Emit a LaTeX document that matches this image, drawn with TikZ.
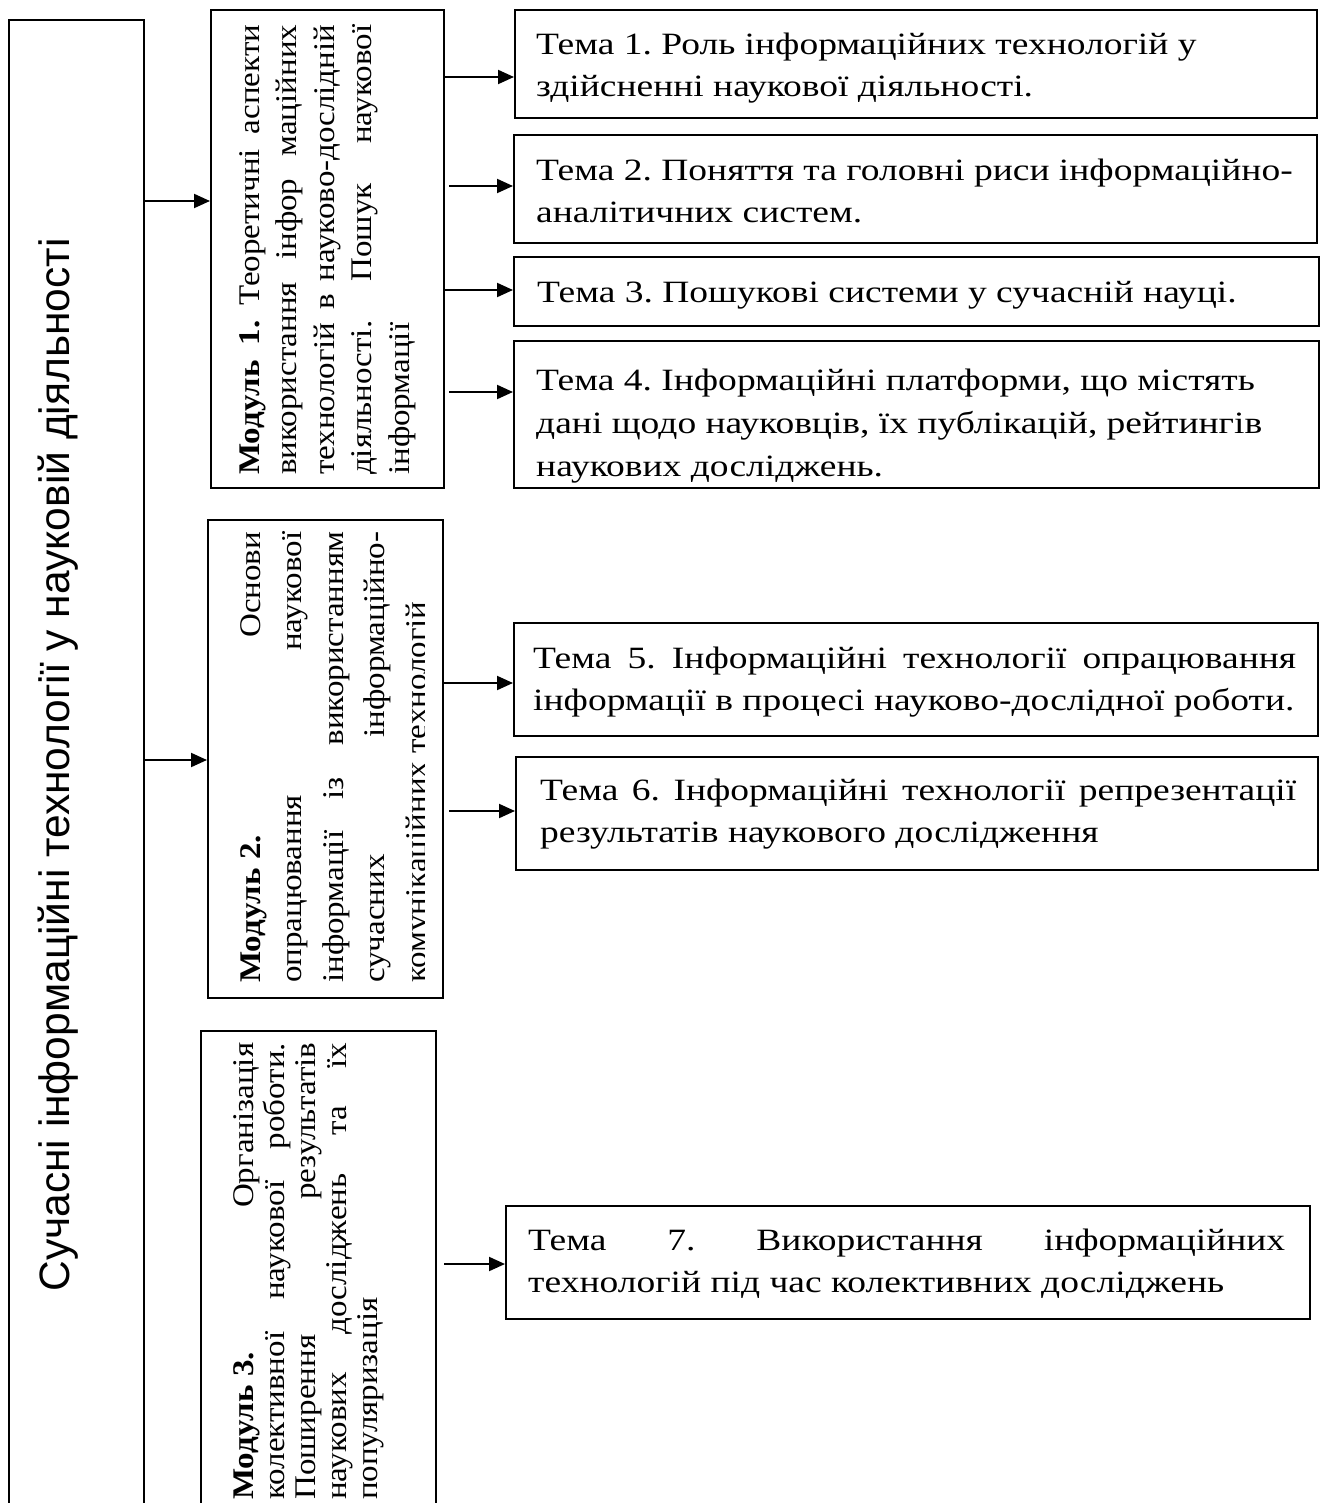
\documentclass[tikz,border=0pt]{standalone}
\usepackage{fontspec}
\setmainfont{Liberation Serif}
\newfontfamily\temafont[FakeStretch=1.21]{Liberation Serif}
\newfontfamily\modfont[FakeStretch=1.1]{Liberation Serif}
\newfontfamily\titlefont{Liberation Sans}
\usetikzlibrary{arrows.meta,calc}
\frenchspacing
\tikzset{
  box/.style={draw, line width=2pt, inner sep=0pt, rectangle, anchor=north west},
  arr/.style={line width=2pt, -{Triangle[length=16pt,width=14pt]}},
  tematext/.style={inner sep=0pt, anchor=base west, align=left, font=\temafont\fontsize{31}{42}\selectfont},
  modtext/.style={inner sep=0pt, anchor=base west, rotate=90, align=left},
}
\newcommand{\jline}[2]{\makebox[#1][s]{#2}}
\begin{document}
\begin{tikzpicture}[x=1pt,y=-1pt]
\useasboundingbox (0,0) rectangle (1321,1503);
% boxes
\node[box, minimum width=135pt, minimum height=1501pt] (main) at (8,19) {};
\node[box, minimum width=233pt, minimum height=478pt] (m1) at (210,9) {};
\node[box, minimum width=235pt, minimum height=478pt] (m2) at (207,519) {};
\node[box, minimum width=235pt, minimum height=490pt] (m3) at (200,1030) {};
\node[box, minimum width=802pt, minimum height=108pt] (t1) at (514,9) {};
\node[box, minimum width=803pt, minimum height=108pt] (t2) at (513,134) {};
\node[box, minimum width=805pt, minimum height=69pt] (t3) at (513,256) {};
\node[box, minimum width=805pt, minimum height=147pt] (t4) at (513,340) {};
\node[box, minimum width=804pt, minimum height=113pt] (t5) at (513,622) {};
\node[box, minimum width=802pt, minimum height=113pt] (t6) at (515,756) {};
\node[box, minimum width=804pt, minimum height=113pt] (t7) at (505,1205) {};
% title
\node[rotate=90, anchor=base, inner sep=0pt, font=\titlefont\fontsize{42.5}{44}\selectfont] (title) at (69,765) {Сучасні інформаційні технології у науковій діяльності};
% module texts (anchor = baseline of the last line)
\node[modtext, font=\modfont\fontsize{30}{37.5}\selectfont] (m1t) at (409,475) {%
\jline{450pt}{\textbf{Модуль 1.} Теоретичні аспекти}\\
\jline{450pt}{використання інфор маційних}\\
\jline{450pt}{технологій в науково-дослідній}\\
\jline{450pt}{діяльності. Пошук наукової}\\
інформації};
\begin{scope}
\clip (m2.north west) rectangle (424,997);
\node[modtext, font=\modfont\fontsize{30}{41.5}\selectfont] (m2t) at (426,983) {%
\jline{451pt}{\textbf{\mbox{Модуль 2.}} Основи}\\
\jline{451pt}{опрацювання наукової}\\
\jline{451pt}{інформації із використанням}\\
\jline{451pt}{сучасних інформаційно-}\\
комунікаційних технологій};
\end{scope}
\node[modtext, font=\modfont\fontsize{30}{31}\selectfont] (m3t) at (377,1500) {%
\jline{457pt}{\textbf{\mbox{Модуль 3.}} Організація}\\
\jline{457pt}{колективної наукової роботи.}\\
\jline{457pt}{Поширення результатів}\\
\jline{457pt}{наукових досліджень та їх}\\
популяризація};
% tema texts (anchor = baseline of the last line)
\node[tematext] (t1t) at (536,97) {Тема 1. Роль інформаційних технологій у\\здійсненні наукової діяльності.};
\node[tematext] (t2t) at (536,223) {Тема 2. Поняття та головні риси інформаційно-\\аналітичних систем.};
\node[tematext] (t3t) at (537,302) {Тема 3. Пошукові системи у сучасній науці.};
\node[tematext, font=\temafont\fontsize{31}{43}\selectfont] (t4t) at (536,476) {Тема 4. Інформаційні платформи, що містять\\дані щодо науковців, їх публікацій, рейтингів\\наукових досліджень.};
\node[tematext] (t5t) at (533,710) {\jline{763pt}{Тема 5. Інформаційні технології опрацювання}\\інформації в процесі науково-дослідної роботи.};
\node[tematext] (t6t) at (540,842) {\jline{756pt}{Тема 6. Інформаційні технології репрезентації}\\результатів наукового дослідження};
\node[tematext] (t7t) at (528,1292) {\jline{757pt}{Тема 7. Використання інформаційних}\\технологій під час колективних досліджень};
% arrow heights
\coordinate (y0) at (0,201);
\coordinate (y1) at (0,760);
\coordinate (a1) at (0,77);
\coordinate (a2) at (0,186);
\coordinate (a3) at (0,290);
\coordinate (a4) at (0,392);
\coordinate (a5) at (0,683);
\coordinate (a6) at (0,811);
\coordinate (a7) at (0,1264);
% connectors
\draw[arr] (main.east |- y0) -- (m1.west |- y0);
\draw[arr] (main.east |- y1) -- (m2.west |- y1);
\draw[arr] (m1.east |- a1) -- (t1.west |- a1);
\draw[arr] ($(m1.east |- a2)+(4,0)$) -- (t2.west |- a2);
\draw[arr] (m1.east |- a3) -- (t3.west |- a3);
\draw[arr] ($(m1.east |- a4)+(4,0)$) -- (t4.west |- a4);
\draw[arr] (m2.east |- a5) -- (t5.west |- a5);
\draw[arr] ($(m2.east |- a6)+(5,0)$) -- (t6.west |- a6);
\draw[arr] ($(m3.east |- a7)+(7,0)$) -- (t7.west |- a7);
\end{tikzpicture}
\end{document}
